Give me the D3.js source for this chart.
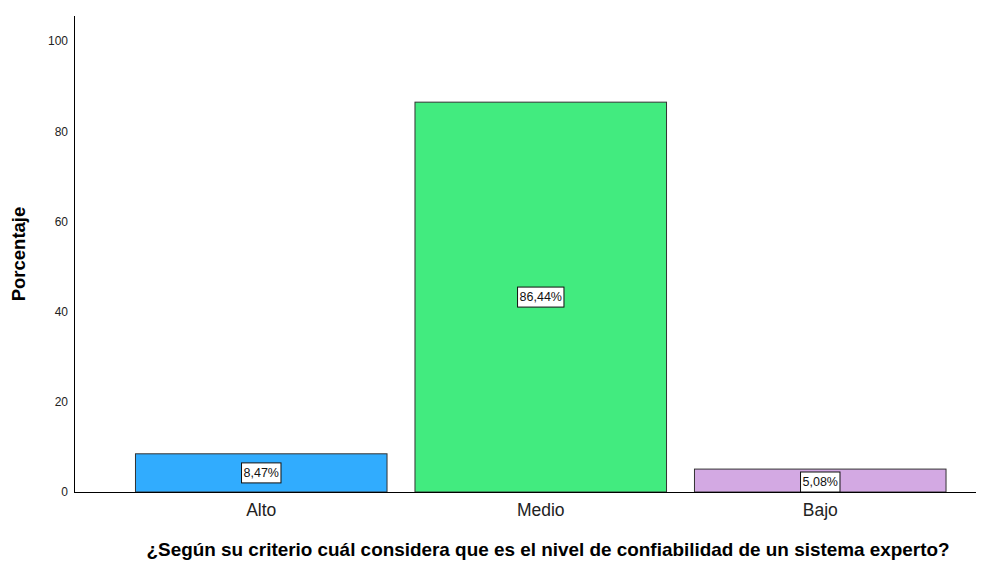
<!DOCTYPE html>
<meta charset="utf-8">
<script src="https://d3js.org/d3.v7.min.js"></script>
<style>
  body { margin: 0; background: #fff; }
  text { font-family: "Liberation Sans", Arial, sans-serif; }
</style>
<div id="chart"></div>
<script>
// data
var categories = ["Alto", "Medio", "Bajo"]
var percents = [8.47, 86.44, 5.08]
var valueLabels = ["8,47%", "86,44%", "5,08%"]
var barColors = ["#31acfe", "#42eb7f", "#d3a9e3"]
var yTicks = [0, 20, 40, 60, 80, 100]

var width = 993, height = 561
var svg = d3.select("#chart").append("svg")
    .attr("width", width)
    .attr("height", height)

var x = d3.scaleBand()
    .domain(categories)
    .range([121.5, 960])
    .paddingInner(0.1)
    .paddingOuter(0.05)

var y = d3.scaleLinear()
    .domain([0, 100])
    .range([492, 41])

// bars
svg.selectAll("rect.bar")
    .data(categories)
    .enter().append("rect")
    .attr("class", "bar")
    .attr("x", function(d) { return x(d) })
    .attr("y", function(d, i) { return y(percents[i]) })
    .attr("width", x.bandwidth())
    .attr("height", function(d, i) { return y(0) - y(percents[i]) })
    .attr("fill", function(d, i) { return barColors[i] })
    .attr("stroke", "#333")
    .attr("stroke-width", 1)

// value labels in white boxes
var lab = svg.selectAll("g.lab")
    .data(categories)
    .enter().append("g")
    .attr("class", "lab")
    .attr("transform", function(d, i) {
        var cy = (y(percents[i]) + y(0)) / 2
        if (percents[i] < 6) cy = y(0) - 10
        return "translate(" + (x(d) + x.bandwidth() / 2) + "," + cy + ")"
    })

lab.each(function(d, i) {
    var g = d3.select(this)
    var t = g.append("text")
        .attr("text-anchor", "middle")
        .attr("dy", "0.35em")
        .style("font-size", "12.5px")
        .attr("fill", "#111")
        .text(valueLabels[i])
    var w = t.node().getComputedTextLength() + 4
    g.insert("rect", "text")
        .attr("x", -w / 2)
        .attr("y", -10)
        .attr("width", w)
        .attr("height", 20)
        .attr("fill", "#fff")
        .attr("stroke", "#111")
        .attr("stroke-width", 1)
})

// y axis
var yAxis = d3.axisLeft(y).tickValues(yTicks).tickSize(0).tickPadding(6)
var gy = svg.append("g").attr("transform", "translate(74,0)").call(yAxis)
gy.select(".domain").remove()
gy.selectAll("text").style("font-size", "12px").attr("fill", "#222")
svg.append("line")
    .attr("x1", 74.5).attr("x2", 74.5)
    .attr("y1", 16).attr("y2", y(0))
    .attr("stroke", "#000")

// x axis
var xAxis = d3.axisBottom(x).tickSize(0).tickPadding(12)
var gx = svg.append("g").attr("transform", "translate(0," + y(0) + ")").call(xAxis)
gx.select(".domain").remove()
gx.selectAll("text").style("font-size", "17.5px").attr("fill", "#222")
svg.append("line")
    .attr("x1", 74).attr("x2", 976)
    .attr("y1", y(0) + 0.5).attr("y2", y(0) + 0.5)
    .attr("stroke", "#000")

// axis titles
svg.append("text")
    .attr("transform", "translate(25,254) rotate(-90)")
    .attr("text-anchor", "middle")
    .style("font-size", "18.5px")
    .style("font-weight", "bold")
    .text("Porcentaje")

svg.append("text")
    .attr("x", 548)
    .attr("y", 556)
    .attr("text-anchor", "middle")
    .style("font-size", "18.5px")
    .style("font-weight", "bold")
    .attr("textLength", 803)
    .attr("lengthAdjust", "spacingAndGlyphs")
    .text("¿Según su criterio cuál considera que es el nivel de confiabilidad de un sistema experto?")
</script>
